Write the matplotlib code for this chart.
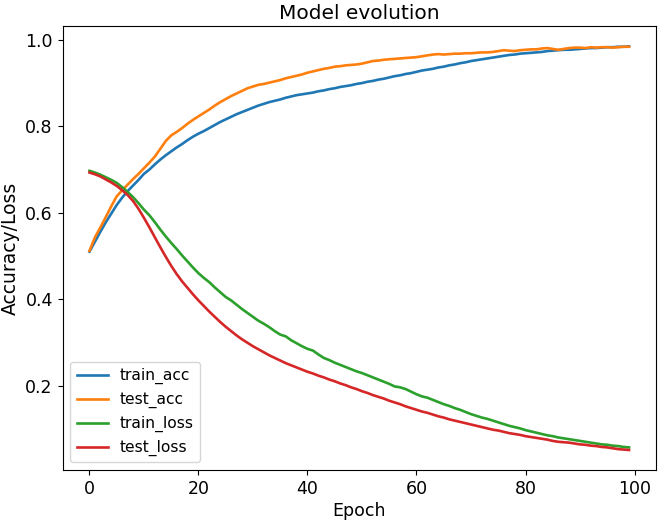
import matplotlib
matplotlib.use("Agg")
import matplotlib.pyplot as plt

epochs = list(range(100))

train_acc = [
    0.510, 0.533, 0.556, 0.578, 0.598, 0.618, 0.635, 0.650, 0.663, 0.676,
    0.690, 0.700, 0.712, 0.723, 0.733, 0.742, 0.751, 0.759, 0.768, 0.776,
    0.783, 0.789, 0.796, 0.803, 0.810, 0.816, 0.822, 0.828, 0.833, 0.838,
    0.843, 0.848, 0.852, 0.856, 0.859, 0.862, 0.866, 0.869, 0.872, 0.874,
    0.876, 0.878, 0.881, 0.883, 0.886, 0.888, 0.891, 0.893, 0.895, 0.898,
    0.900, 0.903, 0.905, 0.908, 0.910, 0.913, 0.916, 0.918, 0.921, 0.923,
    0.926, 0.929, 0.931, 0.933, 0.936, 0.938, 0.941, 0.943, 0.946, 0.948,
    0.951, 0.953, 0.955, 0.957, 0.959, 0.961, 0.963, 0.965, 0.966, 0.968,
    0.969, 0.970, 0.971, 0.972, 0.974, 0.975, 0.976, 0.977, 0.977, 0.978,
    0.979, 0.980, 0.981, 0.981, 0.982, 0.983, 0.983, 0.984, 0.984, 0.985,
]

test_acc = [
    0.512, 0.543, 0.566, 0.590, 0.615, 0.638, 0.652, 0.665, 0.678, 0.690,
    0.703, 0.716, 0.730, 0.748, 0.766, 0.779, 0.787, 0.796, 0.806, 0.815,
    0.823, 0.831, 0.839, 0.848, 0.856, 0.863, 0.870, 0.876, 0.882, 0.888,
    0.892, 0.896, 0.898, 0.901, 0.904, 0.907, 0.911, 0.914, 0.917, 0.920,
    0.924, 0.927, 0.930, 0.933, 0.935, 0.938, 0.939, 0.941, 0.942, 0.943,
    0.945, 0.948, 0.951, 0.952, 0.954, 0.955, 0.956, 0.957, 0.958, 0.959,
    0.960, 0.962, 0.964, 0.966, 0.967, 0.966, 0.967, 0.968, 0.968, 0.969,
    0.969, 0.970, 0.971, 0.971, 0.972, 0.974, 0.976, 0.975, 0.974, 0.976,
    0.977, 0.978, 0.978, 0.980, 0.981, 0.979, 0.977, 0.979, 0.981, 0.982,
    0.982, 0.981, 0.983, 0.982, 0.983, 0.983, 0.982, 0.983, 0.984, 0.984,
]

train_loss = [
    0.697, 0.693, 0.688, 0.682, 0.676, 0.669, 0.659, 0.648, 0.636, 0.622,
    0.607, 0.594, 0.578, 0.561, 0.545, 0.530, 0.516, 0.501, 0.487, 0.473,
    0.460, 0.449, 0.439, 0.427, 0.416, 0.405, 0.397, 0.387, 0.377, 0.368,
    0.359, 0.350, 0.343, 0.335, 0.326, 0.318, 0.314, 0.305, 0.298, 0.291,
    0.285, 0.281, 0.272, 0.264, 0.259, 0.253, 0.248, 0.243, 0.238, 0.233,
    0.229, 0.224, 0.219, 0.214, 0.209, 0.204, 0.198, 0.196, 0.192, 0.186,
    0.180, 0.175, 0.172, 0.167, 0.162, 0.157, 0.153, 0.148, 0.144, 0.139,
    0.134, 0.130, 0.126, 0.123, 0.119, 0.115, 0.111, 0.107, 0.104, 0.101,
    0.097, 0.094, 0.091, 0.088, 0.085, 0.083, 0.080, 0.078, 0.076, 0.074,
    0.072, 0.070, 0.068, 0.066, 0.064, 0.063, 0.061, 0.060, 0.058, 0.057,
]

test_loss = [
    0.693, 0.689, 0.684, 0.677, 0.670, 0.662, 0.652, 0.641, 0.627, 0.609,
    0.588, 0.566, 0.543, 0.520, 0.498, 0.477, 0.458, 0.441, 0.426, 0.411,
    0.397, 0.384, 0.371, 0.359, 0.347, 0.336, 0.326, 0.316, 0.307, 0.299,
    0.291, 0.284, 0.277, 0.270, 0.264, 0.258, 0.252, 0.247, 0.242, 0.237,
    0.232, 0.228, 0.223, 0.219, 0.214, 0.210, 0.205, 0.201, 0.196, 0.192,
    0.187, 0.183, 0.178, 0.174, 0.170, 0.165, 0.161, 0.157, 0.152, 0.148,
    0.144, 0.140, 0.137, 0.133, 0.129, 0.126, 0.122, 0.119, 0.116, 0.113,
    0.110, 0.107, 0.104, 0.101, 0.098, 0.096, 0.093, 0.090, 0.088, 0.086,
    0.083, 0.081, 0.079, 0.077, 0.075, 0.072, 0.070, 0.069, 0.068, 0.066,
    0.064, 0.063, 0.061, 0.060, 0.058, 0.057, 0.055, 0.053, 0.052, 0.051,
]

series_names = ["train_acc", "test_acc", "train_loss", "test_loss"]

fig = plt.figure(figsize=(6.6, 5.23), dpi=100)
ax = fig.add_axes([0.0947, 0.101, 0.8993, 0.849])
for name, vals in zip(series_names, [train_acc, test_acc, train_loss, test_loss]):
    ax.plot(epochs, vals, label=name, linewidth=1.9)

ax.set_title("Model evolution", fontsize=14.5, pad=5)
ax.set_xlabel("Epoch", fontsize=12.5, labelpad=3)
ax.set_ylabel("Accuracy/Loss", fontsize=13.5, labelpad=4)
ax.tick_params(labelsize=12.5)
ax.legend(loc="lower left", fontsize=11.2)

fig.savefig("out.png", dpi=100)
